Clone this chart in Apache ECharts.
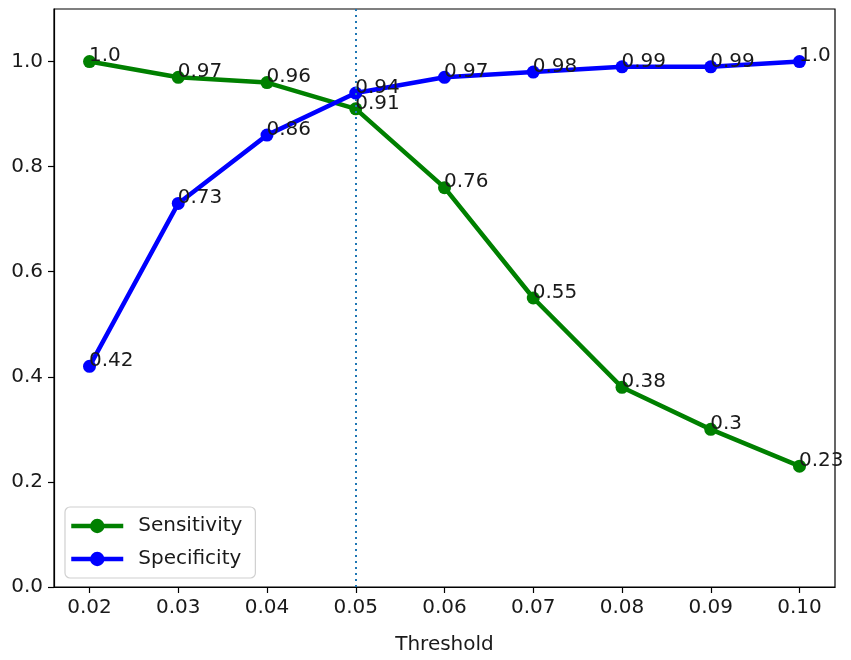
<!DOCTYPE html>
<html>
<head>
<meta charset="utf-8">
<script src="https://cdn.jsdelivr.net/npm/echarts@6/dist/echarts.min.js"></script>
<style>html,body{margin:0;padding:0;background:#fff;}#c{width:851px;height:660px;}</style>
</head>
<body>
<div id="c"></div>
<script>
var thresholds = [0.02, 0.03, 0.04, 0.05, 0.06, 0.07, 0.08, 0.09, 0.10];
var sensitivity = [1.0, 0.97, 0.96, 0.91, 0.76, 0.55, 0.38, 0.30, 0.23];
var specificity = [0.42, 0.73, 0.86, 0.94, 0.97, 0.98, 0.99, 0.99, 1.0];
var sensitivityLabels = ['1.0', '0.97', '0.96', '0.91', '0.76', '0.55', '0.38', '0.3', '0.23'];
var specificityLabels = ['0.42', '0.73', '0.86', '0.94', '0.97', '0.98', '0.99', '0.99', '1.0'];
var xTicks = [0.02, 0.03, 0.04, 0.05, 0.06, 0.07, 0.08, 0.09, 0.10];
var yTicks = [0.0, 0.2, 0.4, 0.6, 0.8, 1.0];
var cutoff = 0.05;

var FONT = 'DejaVu Sans';
var FS = 20;

function pairs(xs, ys, labels) {
  return xs.map(function (x, i) { return { value: [x, ys[i]], lbl: labels[i] }; });
}

var chart = echarts.init(document.getElementById('c'));
chart.setOption({
  animation: false,
  backgroundColor: '#fff',
  textStyle: { fontFamily: FONT },
  grid: { left: 54, right: 16, top: 9, bottom: 71, show: true, borderColor: '#000', borderWidth: 1.2, backgroundColor: 'transparent' },
  xAxis: {
    type: 'value', min: 0.016, max: 0.104,
    name: 'Threshold', nameLocation: 'middle', nameGap: 48,
    nameTextStyle: { fontSize: FS, color: '#1a1a1a', fontFamily: FONT },
    axisLine: { show: true, onZero: false, lineStyle: { color: '#000', width: 1.2 } },
    axisTick: { show: true, length: 6, customValues: xTicks, lineStyle: { color: '#000', width: 1.2 } },
    axisLabel: { customValues: xTicks, margin: 11, fontSize: FS, color: '#1a1a1a', fontFamily: FONT,
      formatter: function (v) { return v.toFixed(2); } },
    splitLine: { show: false }
  },
  yAxis: {
    type: 'value', min: 0, max: 1.1,
    axisLine: { show: true, lineStyle: { color: '#000', width: 1.2 } },
    axisTick: { show: true, length: 6, customValues: yTicks, lineStyle: { color: '#000', width: 1.2 } },
    axisLabel: { customValues: yTicks, margin: 11, fontSize: FS, color: '#1a1a1a', fontFamily: FONT,
      formatter: function (v) { return v.toFixed(1); } },
    splitLine: { show: false }
  },
  legend: {
    left: 65, bottom: 82, orient: 'vertical',
    backgroundColor: '#fff', borderColor: '#d0d0d0', borderWidth: 1.2, borderRadius: 5,
    padding: [9, 13, 9, 4], itemGap: 13, itemWidth: 52, itemHeight: 18,
    lineStyle: { width: 4.5 },
    textStyle: { fontSize: FS, color: '#1a1a1a', fontFamily: FONT, padding: [0, 0, 0, 10] },
    data: ['Sensitivity', 'Specificity']
  },
  series: [
    {
      name: 'Sensitivity', type: 'line',
      data: pairs(thresholds, sensitivity, sensitivityLabels),
      symbol: 'circle', symbolSize: 13,
      lineStyle: { color: '#008000', width: 4.5 },
      itemStyle: { color: '#008000' },
      label: { show: true, position: [6, 11], align: 'left', verticalAlign: 'bottom',
        fontSize: FS, color: '#1a1a1a', fontFamily: FONT,
        formatter: function (p) { return p.data.lbl; } },
      markLine: {
        silent: true, symbol: 'none', label: { show: false },
        lineStyle: { color: '#1f77b4', type: [2, 4], width: 2 },
        data: [{ xAxis: cutoff }]
      },
      z: 2
    },
    {
      name: 'Specificity', type: 'line',
      data: pairs(thresholds, specificity, specificityLabels),
      symbol: 'circle', symbolSize: 13,
      lineStyle: { color: '#0000ff', width: 4.5 },
      itemStyle: { color: '#0000ff' },
      label: { show: true, position: [6, 11], align: 'left', verticalAlign: 'bottom',
        fontSize: FS, color: '#1a1a1a', fontFamily: FONT,
        formatter: function (p) { return p.data.lbl; } },
      z: 3
    }
  ]
});
</script>
</body>
</html>
